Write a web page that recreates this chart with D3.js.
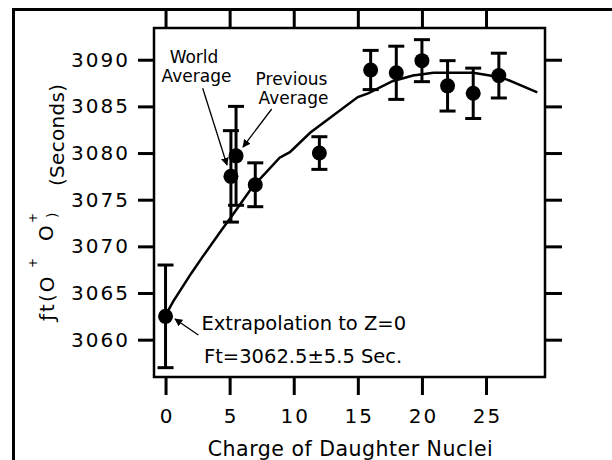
<!DOCTYPE html>
<html>
<head>
<meta charset="utf-8">
<script src="https://cdn.jsdelivr.net/npm/d3@7"></script>
<style>
  body { margin: 0; background: #fff; }
  text { font-family: "DejaVu Sans", Verdana, sans-serif; fill: #000; }
</style>
</head>
<body>
<script>
// measured ft values vs Z of daughter nucleus
const zValues   = [0, 5.1, 5.5, 7, 12, 16, 18, 20, 22, 24, 26]
const ftValues  = [3062.5, 3077.5, 3079.7, 3076.6, 3080.0, 3088.9, 3088.6, 3089.9, 3087.2, 3086.4, 3088.3]
const ftErrors  = [5.5, 4.9, 5.3, 2.35, 1.75, 2.1, 2.85, 2.25, 2.7, 2.7, 2.4]

// calculated curve
const curveZ  = [0, 0.6, 2.0, 2.9, 4.4, 5.3, 6.8, 7.9, 8.9, 9.7, 11.3, 15.0, 15.8, 17.7, 19.3, 20.9, 24.0, 25.3, 26.6, 29.0]
const curveFt = [3062.6, 3064.1, 3067.1, 3068.9, 3071.8, 3073.5, 3076.4, 3078.0, 3079.5, 3080.1, 3082.2, 3086.0, 3086.4, 3087.7, 3088.3, 3088.6, 3088.6, 3088.3, 3087.9, 3086.5]

const xTicks = [0, 5, 10, 15, 20, 25]
const yTicks = [3060, 3065, 3070, 3075, 3080, 3085, 3090]

const m = { left: 154, right: 545, top: 28, bottom: 377 }

const svg = d3.select("body").append("svg")
    .attr("width", 612)
    .attr("height", 460)

// outer frame (runs off the page on right and bottom)
svg.append("rect")
    .attr("x", 13.5).attr("y", 9.5)
    .attr("width", 640).attr("height", 500)
    .attr("fill", "none").attr("stroke", "#000").attr("stroke-width", 3)

const x = d3.scaleLinear().domain([-0.9, 29.6]).range([m.left, m.right])
const y = d3.scaleLinear().domain([3056.0, 3093.4]).range([m.bottom, m.top])

function styleAxis(g) {
    g.select(".domain").remove()
    g.selectAll(".tick line").attr("stroke", "#000").attr("stroke-width", 3)
    g.selectAll(".tick text")
        .attr("fill", "#000")
        .style("font-family", "'DejaVu Sans', sans-serif")
        .style("font-size", "20px")
        .style("letter-spacing", "2px")
}

svg.append("g").attr("transform", `translate(${m.left},0)`)
    .call(d3.axisLeft(y).tickValues(yTicks).tickSize(16).tickPadding(8).tickFormat(d3.format("d")))
    .call(styleAxis)

svg.append("g").attr("transform", `translate(${m.right},0)`)
    .call(d3.axisRight(y).tickValues(yTicks).tickSize(17).tickFormat(""))
    .call(styleAxis)

svg.append("g").attr("transform", `translate(0,${m.bottom})`)
    .call(d3.axisBottom(x).tickValues(xTicks).tickSize(18).tickPadding(14))
    .call(styleAxis)
    .selectAll(".tick text").attr("dx", "1px")

svg.append("g").attr("transform", `translate(0,${m.top})`)
    .call(d3.axisTop(x).tickValues(xTicks).tickSize(18).tickFormat(""))
    .call(styleAxis)

// plot frame
svg.append("rect")
    .attr("x", m.left).attr("y", m.top)
    .attr("width", m.right - m.left).attr("height", m.bottom - m.top)
    .attr("fill", "none").attr("stroke", "#000").attr("stroke-width", 2.5)

// curve
const line = d3.line()
    .x(function(d, i) { return x(curveZ[i]) })
    .y(function(d) { return y(d) })
svg.append("path")
    .datum(curveFt)
    .attr("d", line)
    .attr("fill", "none").attr("stroke", "#000").attr("stroke-width", 2.5)

// error bars
const pts = zValues.map(function(z, i) { return { z: z, ft: ftValues[i], err: ftErrors[i] } })
const eb = svg.append("g").attr("stroke", "#000").attr("stroke-width", 3)
eb.selectAll(".bar").data(pts).enter().append("line")
    .attr("x1", d => x(d.z)).attr("x2", d => x(d.z))
    .attr("y1", d => y(d.ft - d.err)).attr("y2", d => y(d.ft + d.err))
eb.selectAll(".capTop").data(pts).enter().append("line")
    .attr("x1", d => x(d.z) - 8).attr("x2", d => x(d.z) + 8)
    .attr("y1", d => y(d.ft + d.err)).attr("y2", d => y(d.ft + d.err))
eb.selectAll(".capBot").data(pts).enter().append("line")
    .attr("x1", d => x(d.z) - 8).attr("x2", d => x(d.z) + 8)
    .attr("y1", d => y(d.ft - d.err)).attr("y2", d => y(d.ft - d.err))

svg.append("g").selectAll("circle").data(pts).enter().append("circle")
    .attr("cx", d => x(d.z)).attr("cy", d => y(d.ft))
    .attr("r", 7.5).attr("fill", "#000")

// arrow marker
svg.append("defs").append("marker")
    .attr("id", "head").attr("viewBox", "0 0 10 10")
    .attr("refX", 9).attr("refY", 5)
    .attr("markerWidth", 8).attr("markerHeight", 8)
    .attr("markerUnits", "userSpaceOnUse")
    .attr("orient", "auto")
  .append("path").attr("d", "M0,0L10,5L0,10z").attr("fill", "#000")

const arrows = [
    [202.7, 88.3, 227, 165],
    [271.7, 109, 243, 147],
    [198.3, 335, 175, 319]
]
svg.append("g").selectAll("line").data(arrows).enter().append("line")
    .attr("x1", d => d[0]).attr("y1", d => d[1])
    .attr("x2", d => d[2]).attr("y2", d => d[3])
    .attr("stroke", "#000").attr("stroke-width", 1.3)
    .attr("marker-end", "url(#head)")

// annotations
const small = [
    ["World", 194, 62.5],
    ["Average", 196.5, 82],
    ["Previous", 291.5, 85],
    ["Average", 293.5, 103.5]
]
svg.append("g").selectAll("text").data(small).enter().append("text")
    .attr("x", d => d[1]).attr("y", d => d[2])
    .attr("text-anchor", "middle")
    .style("font-size", "17px")
    .text(d => d[0])

svg.append("text").attr("x", 201.5).attr("y", 330)
    .style("font-size", "19.5px").text("Extrapolation to Z=0")
svg.append("text").attr("x", 204).attr("y", 363)
    .style("font-size", "19.5px").text("Ft=3062.5±5.5 Sec.")

// x title
svg.append("text").attr("x", 350.5).attr("y", 456)
    .attr("text-anchor", "middle")
    .style("font-size", "20.5px").style("letter-spacing", "0.5px")
    .text("Charge of Daughter Nuclei")

// y title, pieced together: text, baseline x, start y, size, spacing
const yTitle = [
    ["ƒt(O", 54, 321, 20, 2],
    ["+", 37, 268, 12, 0],
    ["O", 53, 241, 20, 0],
    ["+", 37, 223, 12, 0],
    [")", 57, 218, 14, 0],
    ["(Seconds)", 64, 186, 20, 0.3]
]
svg.append("g").selectAll("text").data(yTitle).enter().append("text")
    .attr("transform", d => `translate(${d[1]},${d[2]}) rotate(-90)`)
    .style("font-size", d => d[3] + "px")
    .style("letter-spacing", d => d[4] + "px")
    .text(d => d[0])
</script>
</body>
</html>
